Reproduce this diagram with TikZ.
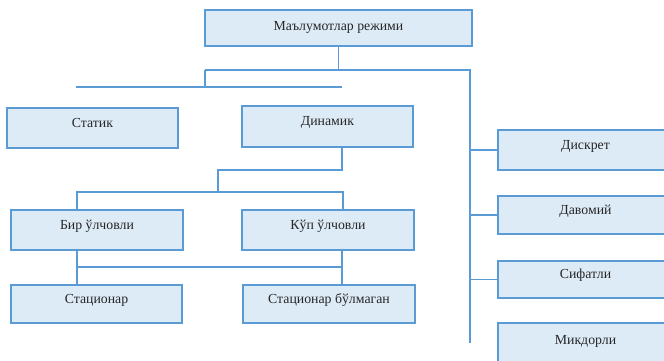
\documentclass[tikz,border=0pt]{standalone}
\usepackage{fontspec}
\setmainfont{Liberation Serif}
\usepackage{tikz}
\usetikzlibrary{calc}
\definecolor{boxfill}{HTML}{DDEBF7}
\definecolor{boxline}{HTML}{5B9BD5}

\begin{document}
\begin{tikzpicture}[x=1pt,y=-1pt,
  box/.style={draw=boxline,line width=1.3pt,fill=boxfill,minimum width=#1,inner sep=0pt,text height=9pt,text depth=11pt,font=\fontsize{13.8}{15}\selectfont,text=black!85},
  box/.default=171pt,
  link/.style={draw=boxline,line width=1.3pt}
]
\useasboundingbox (0,0) rectangle (664,361);
\node[box=267pt,minimum height=36pt,text depth=4pt] (rejim)  at (338.5,28)  {Маълумотлар режими};
\node[box,minimum height=40pt] (statik)  at (92.5,128)  {Статик};
\node[box,minimum height=41pt] (dinamik) at (327.5,126.5) {Динамик};
\node[box=172pt,minimum height=40pt] (bir) at (97,230)  {Бир ўлчовли};
\node[box=172pt,minimum height=40pt] (kup) at (328,230) {Кўп ўлчовли};
\node[box,minimum height=38pt] (stat)    at (96.5,304) {Стационар};
\node[box=172pt,minimum height=38pt] (nostat) at (329,304) {Стационар бўлмаган};
\node[box=175pt,minimum height=40pt] (diskret) at (585.5,150)   {Дискрет};
\node[box=175pt,minimum height=38pt] (davomiy) at (585.5,215)   {Давомий};
\node[box=175pt,minimum height=37pt] (sifat)   at (585.5,279.5) {Сифатли};
\node[box=175pt,minimum height=44pt] (miqdor)  at (585.5,345)   {Микдорли};
% top level
\coordinate (tl) at (205,70); \coordinate (tr) at (470,70);
\coordinate (tb) at (470,343);
\coordinate (a1) at (76,87); \coordinate (a2) at (342,87);
\draw[link] (rejim.south) -- (rejim.south |- tl);
\draw[link] (tl) -- (tr) -- (tb);
\draw[link] (tl) -- (tl |- a1);
\draw[link] (a1) -- (a2);
\draw[link] (tr |- diskret) -- (diskret.west);
\draw[link] (tr |- davomiy) -- (davomiy.west);
\draw[link] (tr |- sifat) -- (sifat.west);
% dinamik
\coordinate (d1) at (342,170); \coordinate (d2) at (218,170);
\coordinate (b1) at (77,192); \coordinate (b2) at (343,192);
\draw[link] (d1 |- dinamik.south) -- (d1) -- (d2) -- (d2 |- b1);
\draw[link] (bir.north -| b1) -- (b1) -- (b2) -- (kup.north -| b2);
\coordinate (c1) at (77,267); \coordinate (c2) at (342,267);
\draw[link] (bir.south -| c1) -- (stat.north -| c1);
\draw[link] (c1) -- (c2);
\draw[link] (kup.south -| c2) -- (nostat.north -| c2);
\end{tikzpicture}
\end{document}
